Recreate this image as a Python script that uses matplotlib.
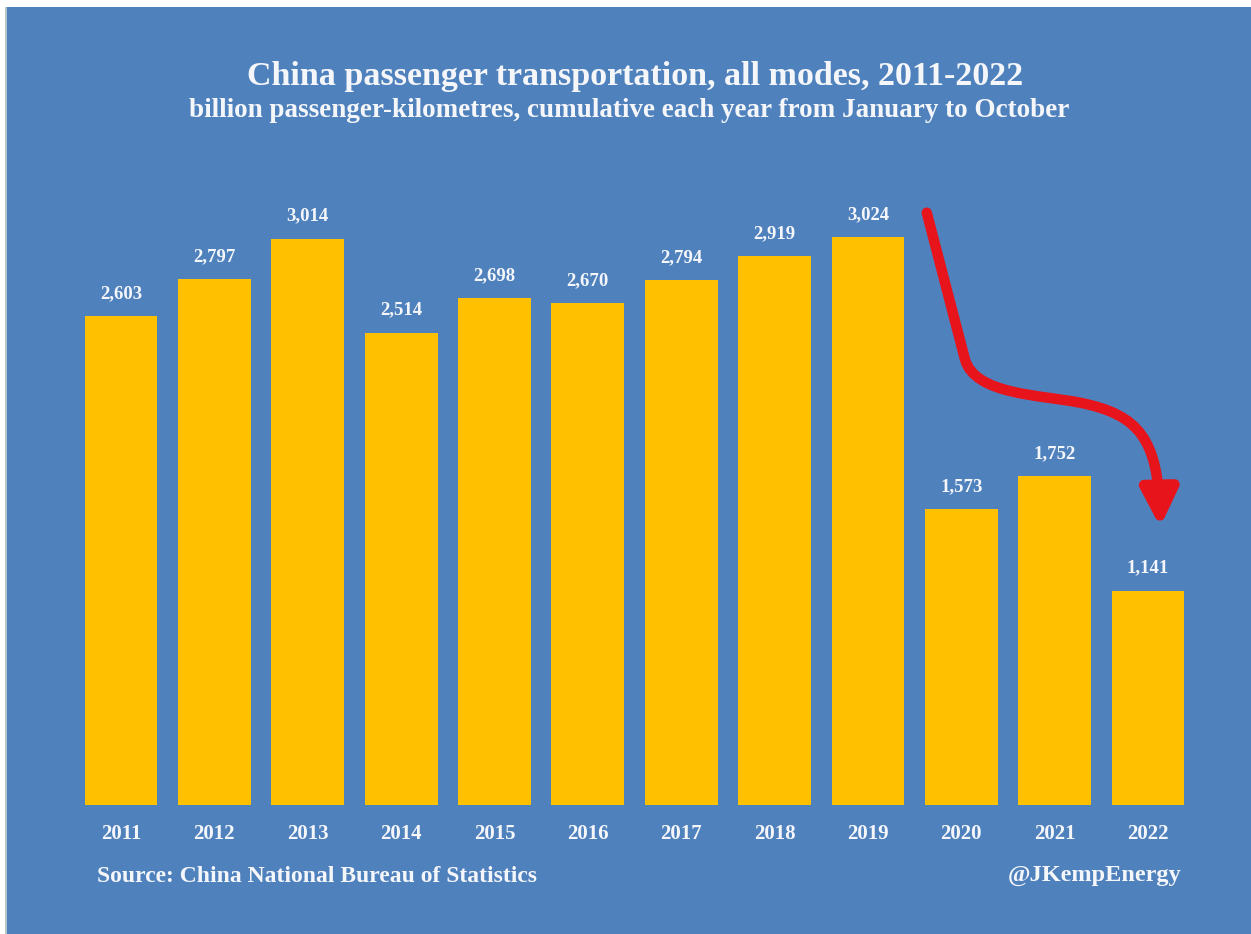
import matplotlib
matplotlib.use("Agg")
import matplotlib.pyplot as plt
from matplotlib.patches import Rectangle, FancyArrowPatch
from matplotlib.path import Path

years = ["2011", "2012", "2013", "2014", "2015", "2016",
         "2017", "2018", "2019", "2020", "2021", "2022"]
passenger_km = [2603, 2797, 3014, 2514, 2698, 2670,
                2794, 2919, 3024, 1573, 1752, 1141]

BLUE = "#4F81BD"
GOLD = "#FFC000"
TEXT = "#F4F6FA"
RED = "#E8141C"

plt.rcParams["font.family"] = ["Liberation Serif", "DejaVu Serif"]

fig = plt.figure(figsize=(12.51, 9.34), dpi=100, facecolor="white")
# blue panel with thin white margin top/left
fig.patches.append(Rectangle((7 / 1251, 0), 1 - 7 / 1251, 1 - 7 / 934,
                             transform=fig.transFigure, facecolor=BLUE,
                             edgecolor="none", zorder=-2))
fig.patches.append(Rectangle((5 / 1251, 0), 2 / 1251, 1 - 7 / 934,
                             transform=fig.transFigure, facecolor="#B8C4CC",
                             edgecolor="none", zorder=-2))

ax = fig.add_axes([0.0594, 0.1381, 0.8956, 0.664])
ax.set_facecolor("none")
x = range(len(years))
bars = ax.bar(x, passenger_km, width=0.78, color=GOLD, zorder=2)
ax.set_xlim(-0.5, len(years) - 0.5)
ax.set_ylim(0, 3300)

for bar, val in zip(bars, passenger_km):
    ax.annotate(f"{val:,}", (bar.get_x() + bar.get_width() / 2, bar.get_height()),
                xytext=(0, 10), textcoords="offset points", ha="center", va="bottom",
                color=TEXT, fontsize=13.5, fontweight="bold")

ax.set_xticks(list(x))
ax.set_xticklabels(years, color=TEXT, fontsize=15, fontweight="bold")
ax.tick_params(axis="x", length=0, pad=14)
ax.set_yticks([])
for s in ax.spines.values():
    s.set_visible(False)

# hand-drawn style red arrow (data coords: bar index, value)
verts = [(8.63, 3152), (9.04, 2370),
         (9.15, 2183), (9.84, 2183), (10.27, 2141),
         (10.91, 2077), (11.11, 1944), (11.13, 1480)]
codes = [Path.MOVETO, Path.LINETO,
         Path.CURVE4, Path.CURVE4, Path.CURVE4,
         Path.CURVE4, Path.CURVE4, Path.CURVE4]
arrow = FancyArrowPatch(path=Path(verts, codes), transform=ax.transData,
                        arrowstyle="-|>,head_length=1.1,head_width=0.55",
                        mutation_scale=20, color=RED, linewidth=7.5,
                        capstyle="round", joinstyle="round", zorder=4)
ax.add_patch(arrow)

fig.text(0.508, 0.918, "China passenger transportation, all modes, 2011-2022",
         ha="center", va="center", color=TEXT, fontsize=24.5, fontweight="bold")
fig.text(0.503, 0.882, "billion passenger-kilometres, cumulative each year from January to October",
         ha="center", va="center", color=TEXT, fontsize=19.5, fontweight="bold")
fig.text(97 / 1251, 1 - 876 / 934, "Source: China National Bureau of Statistics",
         ha="left", va="center", color=TEXT, fontsize=17, fontweight="bold")
fig.text(1181 / 1251, 1 - 876 / 934, "@JKempEnergy",
         ha="right", va="center", color=TEXT, fontsize=17.5, fontweight="bold")

fig.savefig("out.png", dpi=100, facecolor=fig.get_facecolor())
